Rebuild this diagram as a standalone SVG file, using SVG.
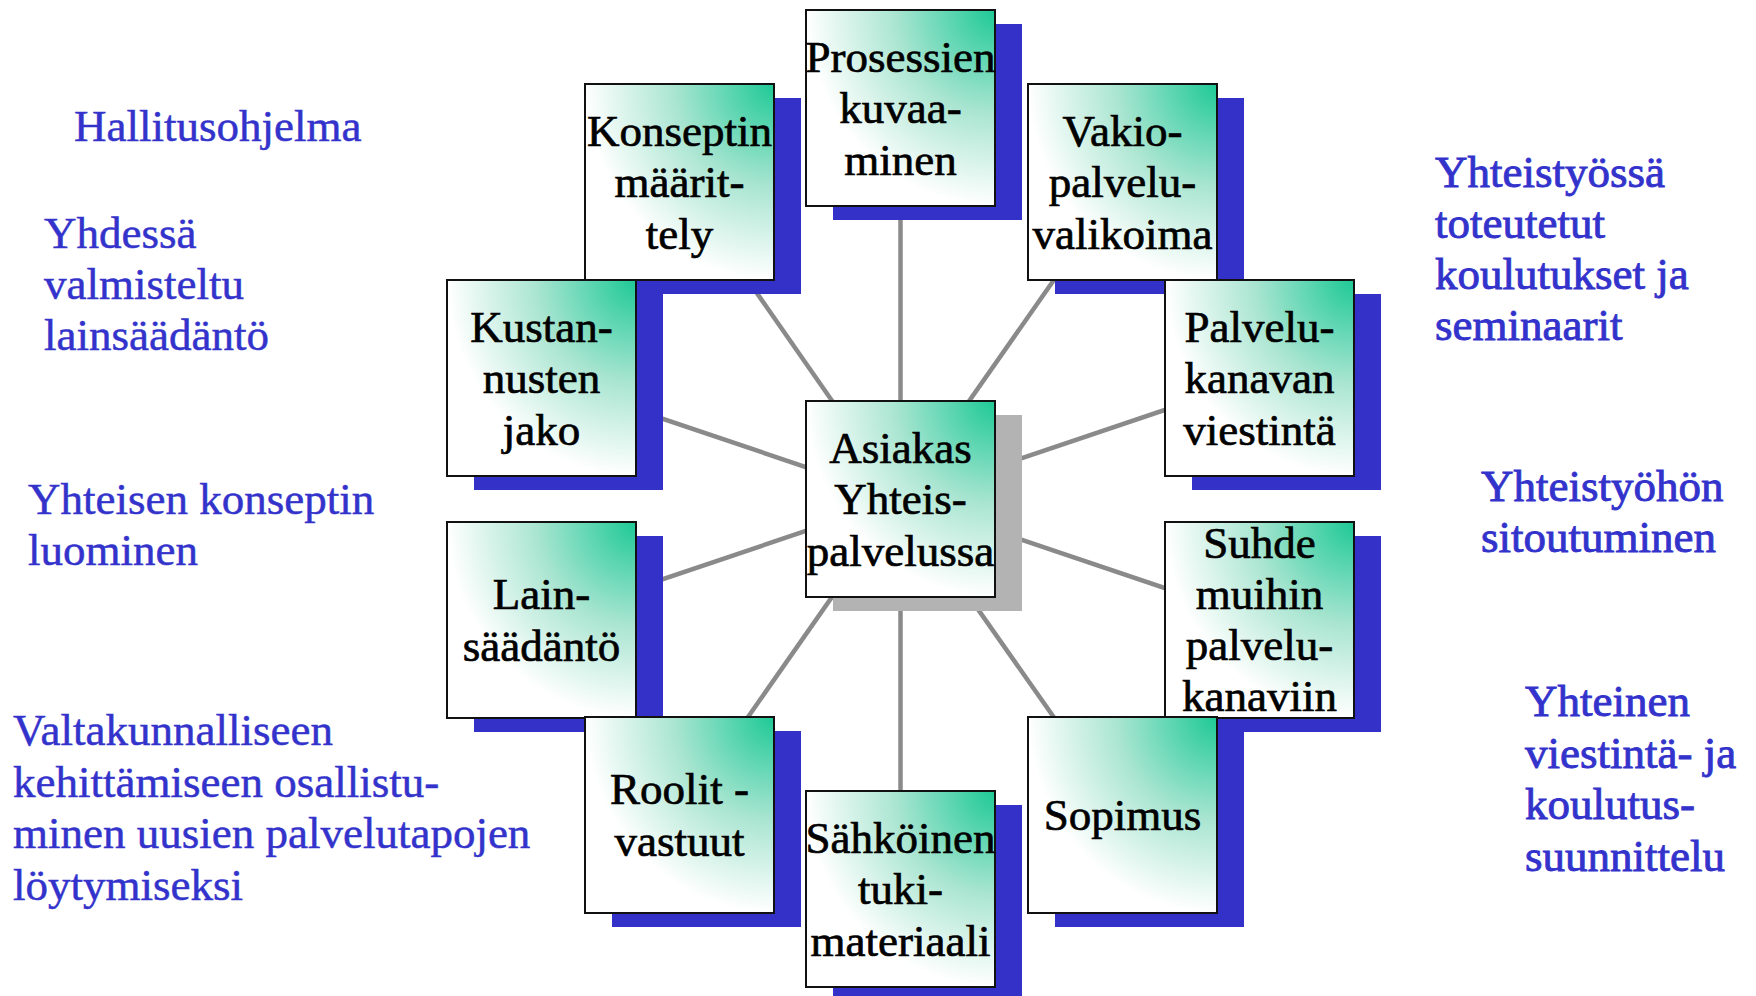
<svg xmlns="http://www.w3.org/2000/svg" width="1756" height="996" viewBox="0 0 1756 996">
<defs>
<radialGradient id="g" cx="1" cy="0" r="1.05" fx="1" fy="0">
<stop offset="0" stop-color="#1ec996"/>
<stop offset="0.5" stop-color="#a9e5d1"/>
<stop offset="0.95" stop-color="#ffffff"/>
</radialGradient>
<style>
.bx{fill:url(#g);stroke:#111;stroke-width:2}
.sh{fill:#3431c8}
.shg{fill:#b3b3b3}
.t{font-family:"Liberation Serif","Times New Roman",serif;font-size:45px;fill:#000;stroke:#000;stroke-width:0.7;text-anchor:middle}
.s{font-family:"Liberation Serif","Times New Roman",serif;font-size:45px;fill:#3333cc;stroke:#3333cc;stroke-width:0.5}
.r{stroke-width:0.9}
.c{stroke:#8a8a8a;stroke-width:4.5;fill:none}
</style>
</defs>
<rect width="1756" height="996" fill="#fff"/>
<g id="side-left">
<text class="s" x="74" y="141">Hallitusohjelma</text>
<text class="s" x="44" y="248"><tspan x="44">Yhdessä</tspan><tspan x="44" dy="51">valmisteltu</tspan><tspan x="44" dy="51">lainsäädäntö</tspan></text>
<text class="s" x="28" y="514"><tspan x="28">Yhteisen konseptin</tspan><tspan x="28" dy="51">luominen</tspan></text>
<text class="s" x="13" y="745"><tspan x="13">Valtakunnalliseen</tspan><tspan x="13" dy="51.5">kehittämiseen osallistu-</tspan><tspan x="13" dy="51.5">minen uusien palvelutapojen</tspan><tspan x="13" dy="51.5">löytymiseksi</tspan></text>
</g>
<g id="side-right">
<text class="s r" x="1435" y="187"><tspan x="1435">Yhteistyössä</tspan><tspan x="1435" dy="51">toteutetut</tspan><tspan x="1435" dy="51">koulutukset ja</tspan><tspan x="1435" dy="51">seminaarit</tspan></text>
<text class="s r" x="1481" y="501"><tspan x="1481">Yhteistyöhön</tspan><tspan x="1481" dy="51">sitoutuminen</tspan></text>
<text class="s r" x="1525" y="716"><tspan x="1525">Yhteinen</tspan><tspan x="1525" dy="51.5">viestintä- ja</tspan><tspan x="1525" dy="51.5">koulutus-</tspan><tspan x="1525" dy="51.5">suunnittelu</tspan></text>
</g>
<g id="connectors">
<line class="c" x1="900.5" y1="499" x2="900.5" y2="108"/>
<line class="c" x1="900.5" y1="499" x2="679.5" y2="182"/>
<line class="c" x1="900.5" y1="499" x2="1122.5" y2="182"/>
<line class="c" x1="900.5" y1="499" x2="541.5" y2="378"/>
<line class="c" x1="900.5" y1="499" x2="1259.5" y2="378"/>
<line class="c" x1="900.5" y1="499" x2="541.5" y2="620"/>
<line class="c" x1="900.5" y1="499" x2="1259.5" y2="620"/>
<line class="c" x1="900.5" y1="499" x2="679.5" y2="815"/>
<line class="c" x1="900.5" y1="499" x2="1122.5" y2="815"/>
<line class="c" x1="900.5" y1="499" x2="900.5" y2="889"/>
</g>
<g id="n-prosessien">
<rect class="sh" x="833" y="24" width="189" height="196"/>
<rect class="bx" x="806" y="10" width="189" height="196"/>
<text class="t" x="900.5" y="71.5"><tspan x="900.5">Prosessien</tspan><tspan x="900.5" dy="51.5">kuvaa-</tspan><tspan x="900.5" dy="51.5">minen</tspan></text>
</g>
<g id="n-konseptin">
<rect class="sh" x="612" y="98" width="189" height="196"/>
<rect class="bx" x="585" y="84" width="189" height="196"/>
<text class="t" x="679.5" y="145.5"><tspan x="679.5">Konseptin</tspan><tspan x="679.5" dy="51.5">määrit-</tspan><tspan x="679.5" dy="51.5">tely</tspan></text>
</g>
<g id="n-vakio">
<rect class="sh" x="1055" y="98" width="189" height="196"/>
<rect class="bx" x="1028" y="84" width="189" height="196"/>
<text class="t" x="1122.5" y="145.5"><tspan x="1122.5">Vakio-</tspan><tspan x="1122.5" dy="51.5">palvelu-</tspan><tspan x="1122.5" dy="51.5">valikoima</tspan></text>
</g>
<g id="n-kustan">
<rect class="sh" x="474" y="294" width="189" height="196"/>
<rect class="bx" x="447" y="280" width="189" height="196"/>
<text class="t" x="541.5" y="341.5"><tspan x="541.5">Kustan-</tspan><tspan x="541.5" dy="51.5">nusten</tspan><tspan x="541.5" dy="51.5">jako</tspan></text>
</g>
<g id="n-palvelukanavan">
<rect class="sh" x="1192" y="294" width="189" height="196"/>
<rect class="bx" x="1165" y="280" width="189" height="196"/>
<text class="t" x="1259.5" y="341.5"><tspan x="1259.5">Palvelu-</tspan><tspan x="1259.5" dy="51.5">kanavan</tspan><tspan x="1259.5" dy="51.5">viestintä</tspan></text>
</g>
<g id="n-asiakas">
<rect class="shg" x="833" y="415" width="189" height="196"/>
<rect class="bx" x="806" y="401" width="189" height="196"/>
<text class="t" x="900.5" y="462.5"><tspan x="900.5">Asiakas</tspan><tspan x="900.5" dy="51.5">Yhteis-</tspan><tspan x="900.5" dy="51.5">palvelussa</tspan></text>
</g>
<g id="n-lain">
<rect class="sh" x="474" y="536" width="189" height="196"/>
<rect class="bx" x="447" y="522" width="189" height="196"/>
<text class="t" x="541.5" y="609.25"><tspan x="541.5">Lain-</tspan><tspan x="541.5" dy="51.5">säädäntö</tspan></text>
</g>
<g id="n-suhde">
<rect class="sh" x="1192" y="536" width="189" height="196"/>
<rect class="bx" x="1165" y="522" width="189" height="196"/>
<text class="t" x="1259.5" y="557.5"><tspan x="1259.5">Suhde</tspan><tspan x="1259.5" dy="51">muihin</tspan><tspan x="1259.5" dy="51">palvelu-</tspan><tspan x="1259.5" dy="51">kanaviin</tspan></text>
</g>
<g id="n-roolit">
<rect class="sh" x="612" y="731" width="189" height="196"/>
<rect class="bx" x="585" y="717" width="189" height="196"/>
<text class="t" x="679.5" y="804.25"><tspan x="679.5">Roolit -</tspan><tspan x="679.5" dy="51.5">vastuut</tspan></text>
</g>
<g id="n-sopimus">
<rect class="sh" x="1055" y="731" width="189" height="196"/>
<rect class="bx" x="1028" y="717" width="189" height="196"/>
<text class="t" x="1122.5" y="830">Sopimus</text>
</g>
<g id="n-sahkoinen">
<rect class="sh" x="833" y="805" width="189" height="196"/>
<rect class="bx" x="806" y="791" width="189" height="196"/>
<text class="t" x="900.5" y="852.5"><tspan x="900.5">Sähköinen</tspan><tspan x="900.5" dy="51.5">tuki-</tspan><tspan x="900.5" dy="51.5">materiaali</tspan></text>
</g>
</svg>
